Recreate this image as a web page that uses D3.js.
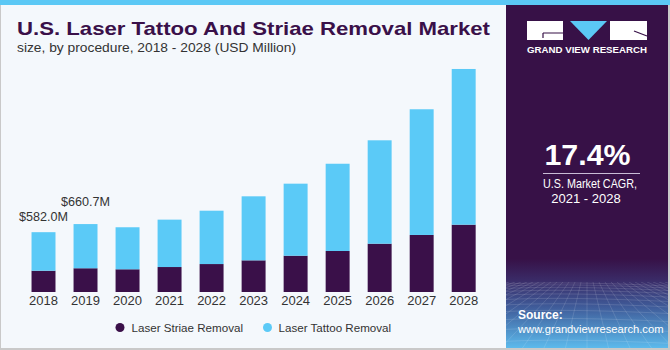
<!DOCTYPE html>
<html><head><meta charset="utf-8">
<script src="https://cdn.jsdelivr.net/npm/d3@7/dist/d3.min.js"></script>
<style>html,body{margin:0;padding:0;background:#fff;}svg{display:block;font-family:"Liberation Sans",Arial,sans-serif;}</style>
</head><body>
<script>
const years = ["2018","2019","2020","2021","2022","2023","2024","2025","2026","2027","2028"];
const striae = [207, 231, 221, 243, 272, 308, 353, 399, 470, 555, 655];
const tattoo = [375, 430, 409, 461, 519, 623, 701, 849, 1006, 1223, 1515];
const valueLabels = [{year:"2018", text:"$582.0M"}, {year:"2019", text:"$660.7M"}];
const seriesNames = ["Laser Striae Removal", "Laser Tattoo Removal"];
const colors = ["#3a1049", "#5bcaf7"];

const W = 670, H = 350;
const svg = d3.select("body").append("svg").attr("width", W).attr("height", H);
const defs = svg.append("defs");

// background
svg.append("rect").attr("width", W).attr("height", H).attr("fill", "#f4f8fc");
svg.append("rect").attr("x",0).attr("y",0).attr("width",1).attr("height",H).attr("fill","#c9c9c9");
svg.append("rect").attr("x",0).attr("y",H-2).attr("width",W).attr("height",2).attr("fill","#c9c9c9");
svg.append("rect").attr("x",W-2).attr("y",0).attr("width",2).attr("height",H).attr("fill","#c9c9c9");

// right panel
const px = 506, pw = 162, py = 5, ph = 343;
const grad = defs.append("linearGradient").attr("id","pg").attr("x1",0).attr("y1",0).attr("x2",0).attr("y2",1);
[[0,"#371147"],[0.74,"#371147"],[0.8,"#3a2a66"],[0.88,"#3f5b99"],[1,"#5cbaec"]].forEach(s=>grad.append("stop").attr("offset",s[0]).attr("stop-color",s[1]));
svg.append("rect").attr("x",px).attr("y",py).attr("width",pw).attr("height",ph).attr("fill","url(#pg)");

// decorative grid at bottom of panel
const clip = defs.append("clipPath").attr("id","gc");
clip.append("rect").attr("x",px).attr("y",282).attr("width",pw).attr("height",H-2-282);
const gridG = svg.append("g").attr("clip-path","url(#gc)").attr("stroke","#ffffff").attr("stroke-opacity",0.18).attr("stroke-width",0.7).attr("fill","none");
let gy = 284, step = 2;
while (gy < 350) { gridG.append("path").attr("d", `M${px},${gy} Q${px+60},${gy-3} ${px+pw},${gy+2}`); gy += step; step *= 1.22; }
for (let i = -14; i <= 14; i++) {
  gridG.append("line").attr("x1", 587 + i*6).attr("y1", 282).attr("x2", 587 + i*22).attr("y2", 350);
}

// top strip
svg.append("rect").attr("x",0).attr("y",0).attr("width",W).attr("height",5).attr("fill","#5bc8f5");

// logo
const lg = svg.append("g");
lg.append("rect").attr("x",527).attr("y",21).attr("width",36).attr("height",19).attr("fill","#fff");
lg.append("path").attr("d","M543,33 H563 M543,33 V38").attr("stroke","#371147").attr("stroke-width",1.2).attr("fill","none");
lg.append("path").attr("d","M570,21 H607 L588.5,40 Z").attr("fill","#5bc8f5");
lg.append("rect").attr("x",610).attr("y",21).attr("width",37).attr("height",19).attr("fill","#fff");
lg.append("path").attr("d","M634,31 L647,36").attr("stroke","#371147").attr("stroke-width",1.2);
lg.append("text").attr("x",587).attr("y",53).attr("text-anchor","middle").attr("fill","#fff")
  .attr("font-size",9.5).attr("font-weight","bold").attr("textLength",120).attr("lengthAdjust","spacingAndGlyphs").text("GRAND VIEW RESEARCH");

// CAGR
svg.append("text").attr("x",587.5).attr("y",165).attr("text-anchor","middle").attr("fill","#fff")
  .attr("font-size",30).attr("font-weight","bold").attr("textLength",86).attr("lengthAdjust","spacingAndGlyphs").text("17.4%");
svg.append("line").attr("x1",543).attr("x2",640).attr("y1",173.5).attr("y2",173.5).attr("stroke","#c9bcd6").attr("stroke-width",1.2);
svg.append("text").attr("x",590).attr("y",188).attr("text-anchor","middle").attr("fill","#fff")
  .attr("font-size",13).attr("textLength",94).attr("lengthAdjust","spacingAndGlyphs").text("U.S. Market CAGR,");
svg.append("text").attr("x",586).attr("y",203).attr("text-anchor","middle").attr("fill","#fff")
  .attr("font-size",13).text("2021 - 2028");

// source
svg.append("text").attr("x",518).attr("y",319).attr("fill","#fff").attr("font-size",12).attr("font-weight","bold").text("Source:");
svg.append("text").attr("x",518).attr("y",332.5).attr("fill","#fff").attr("font-size",11.2).text("www.grandviewresearch.com");

// title
svg.append("text").attr("x",17).attr("y",35).attr("fill","#3a1049").attr("font-size",19).attr("font-weight","bold")
  .attr("textLength",473).attr("lengthAdjust","spacingAndGlyphs").text("U.S. Laser Tattoo And Striae Removal Market");
svg.append("text").attr("x",17).attr("y",52).attr("fill","#333").attr("font-size",13.5)
  .attr("textLength",279).attr("lengthAdjust","spacingAndGlyphs").text("size, by procedure, 2018 - 2028 (USD Million)");

// chart
const x = d3.scaleBand().domain(years).range([22.5, 484.7]).paddingInner(0.43).paddingOuter(0.215);
const y = d3.scaleLinear().domain([0, 2200]).range([292, 292 - 2200/9.73]);

const data = years.map((yr,i)=>({year:yr, striae:striae[i], tattoo:tattoo[i]}));
const stack = d3.stack().keys(["striae","tattoo"])(data);

svg.append("g").selectAll("g").data(stack).join("g").attr("fill",(d,i)=>colors[i])
  .selectAll("rect").data(d=>d).join("rect")
  .attr("x", d=>x(d.data.year)).attr("width", x.bandwidth())
  .attr("y", d=>y(d[1])).attr("height", d=>y(d[0]) - y(d[1]));

// value labels (offsets above bar tops as in the reference)
const labelGap = [11, 18];
const totals = Object.fromEntries(data.map(d=>[d.year, d.striae + d.tattoo]));
svg.append("g").selectAll("text").data(valueLabels).join("text")
  .attr("x", d=>x(d.year) + x.bandwidth()/2).attr("y", (d,i)=>y(totals[d.year]) - labelGap[i])
  .attr("text-anchor","middle").attr("fill","#333").attr("font-size",12.6).text(d=>d.text);

// x axis
const ax = svg.append("g").attr("transform","translate(0,292)")
  .call(d3.axisBottom(x).tickSize(0).tickPadding(4));
ax.select(".domain").remove();
ax.selectAll("text").attr("fill","#333").attr("font-size",13).attr("font-family","Liberation Sans, Arial, sans-serif");

// legend
const legX = [120, 267.5], legTx = [131.5, 278.5];
const leg = svg.append("g").selectAll("g").data(seriesNames).join("g");
leg.append("circle").attr("cx",(d,i)=>legX[i]).attr("cy",327.5).attr("r",4.5).attr("fill",(d,i)=>colors[i]);
leg.append("text").attr("x",(d,i)=>legTx[i]).attr("y",331.5).attr("fill","#333").attr("font-size",11.6).text(d=>d);
</script>
</body></html>
